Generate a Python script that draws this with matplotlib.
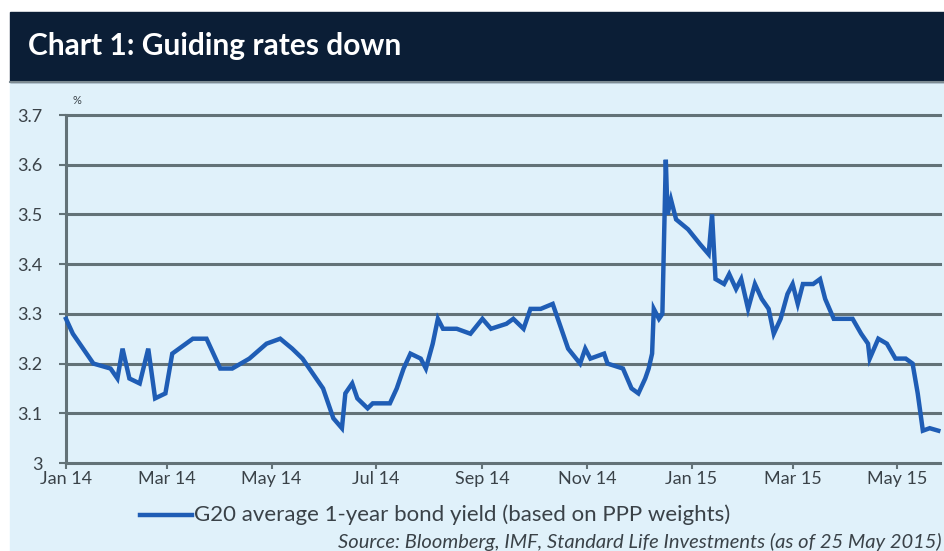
import pandas as pd
import matplotlib.pyplot as plt
import matplotlib.dates as mdates
from matplotlib.patches import Rectangle

# G20 average 1-year bond yield, %
dates = [
    "2014-01-01", "2014-01-05", "2014-01-17", "2014-01-27", "2014-01-31",
    "2014-02-03", "2014-02-07", "2014-02-13", "2014-02-18", "2014-02-22",
    "2014-02-28", "2014-03-04", "2014-03-08", "2014-03-16", "2014-03-24",
    "2014-04-01", "2014-04-08", "2014-04-18", "2014-04-28", "2014-05-06",
    "2014-05-13", "2014-05-19", "2014-05-25", "2014-05-31", "2014-06-06",
    "2014-06-11", "2014-06-13", "2014-06-17", "2014-06-20", "2014-06-26",
    "2014-06-29", "2014-07-09", "2014-07-13", "2014-07-17", "2014-07-21",
    "2014-07-27", "2014-07-30", "2014-08-03", "2014-08-06", "2014-08-09",
    "2014-08-17", "2014-08-25", "2014-09-01", "2014-09-06", "2014-09-15",
    "2014-09-19", "2014-09-25", "2014-09-29", "2014-10-05", "2014-10-12",
    "2014-10-15", "2014-10-21", "2014-10-28", "2014-10-31", "2014-11-03",
    "2014-11-11", "2014-11-13", "2014-11-22", "2014-11-27", "2014-12-01",
    "2014-12-05", "2014-12-07", "2014-12-09", "2014-12-10", "2014-12-13",
    "2014-12-15", "2014-12-17", "2014-12-18", "2014-12-20", "2014-12-23",
    "2014-12-30", "2015-01-06", "2015-01-11", "2015-01-13", "2015-01-15",
    "2015-01-20", "2015-01-23", "2015-01-27", "2015-01-30", "2015-02-03",
    "2015-02-07", "2015-02-11", "2015-02-15", "2015-02-18", "2015-02-22",
    "2015-02-26", "2015-03-01", "2015-03-04", "2015-03-07", "2015-03-13",
    "2015-03-17", "2015-03-20", "2015-03-25", "2015-03-31", "2015-04-05",
    "2015-04-10", "2015-04-14", "2015-04-15", "2015-04-20", "2015-04-25",
    "2015-04-30", "2015-05-06", "2015-05-10", "2015-05-13", "2015-05-16",
    "2015-05-20", "2015-05-25",
]
yields = [
    3.29, 3.26, 3.20, 3.19, 3.17,
    3.23, 3.17, 3.16, 3.23, 3.13,
    3.14, 3.22, 3.23, 3.25, 3.25,
    3.19, 3.19, 3.21, 3.24, 3.25,
    3.23, 3.21, 3.18, 3.15, 3.09,
    3.07, 3.14, 3.16, 3.13, 3.11,
    3.12, 3.12, 3.15, 3.19, 3.22,
    3.21, 3.19, 3.24, 3.29, 3.27,
    3.27, 3.26, 3.29, 3.27, 3.28,
    3.29, 3.27, 3.31, 3.31, 3.32,
    3.29, 3.23, 3.20, 3.23, 3.21,
    3.22, 3.20, 3.19, 3.15, 3.14,
    3.17, 3.19, 3.22, 3.31, 3.29,
    3.30, 3.61, 3.50, 3.53, 3.49,
    3.47, 3.44, 3.42, 3.50, 3.37,
    3.36, 3.38, 3.35, 3.37, 3.31,
    3.36, 3.33, 3.31, 3.26, 3.29,
    3.34, 3.36, 3.32, 3.36, 3.36,
    3.37, 3.33, 3.29, 3.29, 3.29,
    3.26, 3.24, 3.21, 3.25, 3.24,
    3.21, 3.21, 3.20, 3.14, 3.065,
    3.07, 3.065,
]
y_ticks = [3.0, 3.1, 3.2, 3.3, 3.4, 3.5, 3.6, 3.7]

title = "Chart 1: Guiding rates down"
series_label = "G20 average 1-year bond yield (based on PPP weights)"
source = "Source: Bloomberg, IMF, Standard Life Investments (as of 25 May 2015)"

navy = "#0b1e36"
panel = "#e0f1fa"
grid = "#637277"
blue = "#1f5db5"
txt = "#3a4248"

plt.rcParams["font.family"] = ["Lato", "DejaVu Sans"]

W, H = 945, 551
fig = plt.figure(figsize=(W / 100, H / 100), dpi=100)
fig.patch.set_facecolor("white")

# background panel and title band, kept behind the axes
fig.patches.append(Rectangle((10 / W, 0), 1, (H - 82) / H,
                             transform=fig.transFigure, color=panel, zorder=-2))
fig.patches.append(Rectangle((10 / W, (H - 82) / H), 1, 70 / H,
                             transform=fig.transFigure, color=navy, zorder=-2))
fig.add_artist(plt.Line2D([10 / W, 1], [(H - 82) / H] * 2, color="#7d8b92",
                          lw=1.5, transform=fig.transFigure, zorder=-1))
fig.text(28 / W, (H - 46) / H, title, color="white", fontsize=21.5,
         fontweight="bold", va="center", ha="left")

x0, x1, ytop, ybot = 66, 940, 115, 463
ax = fig.add_axes([x0 / W, (H - ybot) / H, (x1 - x0) / W, (ybot - ytop) / H])
ax.set_facecolor(panel)
ax.set_zorder(2)

d = pd.to_datetime(dates)
ax.plot(d, yields, color=blue, lw=3.2, solid_joinstyle="miter", zorder=3,
        clip_on=False)

ax.set_xlim(pd.Timestamp("2014-01-01"), pd.Timestamp("2015-05-26"))
ax.set_ylim(3.0, 3.7)
ax.set_yticks(y_ticks)
ax.set_yticklabels([f"{v:g}" for v in y_ticks])
for v in y_ticks[1:]:
    ax.axhline(v, color=grid, lw=2.2, zorder=1, clip_on=False)

ax.xaxis.set_major_locator(mdates.MonthLocator(bymonth=[1, 3, 5, 7, 9, 11]))
ax.xaxis.set_major_formatter(mdates.DateFormatter("%b %y"))

for s in ["top", "right"]:
    ax.spines[s].set_visible(False)
for s in ["left", "bottom"]:
    ax.spines[s].set_color(grid)
    ax.spines[s].set_linewidth(2.2)
ax.tick_params(axis="x", direction="out", length=4, width=1.5, color=grid,
               labelsize=13, labelcolor=txt, pad=2)
ax.tick_params(axis="y", direction="out", length=5, width=1.5, color=grid,
               labelsize=13, labelcolor=txt, pad=12)

fig.text(73 / W, (H - 101) / H, "%", fontsize=8, color=txt, ha="left",
         va="center")

# legend row
fig.add_artist(plt.Line2D([140 / W, 192 / W], [(H - 515) / H] * 2, color=blue,
                          lw=3.2, transform=fig.transFigure))
fig.text(194 / W, (H - 515) / H, series_label, fontsize=16, color=txt,
         ha="left", va="center")
fig.text(942 / W, (H - 542) / H, source, fontsize=14.5, color=txt,
         ha="right", va="center", style="italic")

fig.savefig("out.png", dpi=100, facecolor=fig.get_facecolor())
